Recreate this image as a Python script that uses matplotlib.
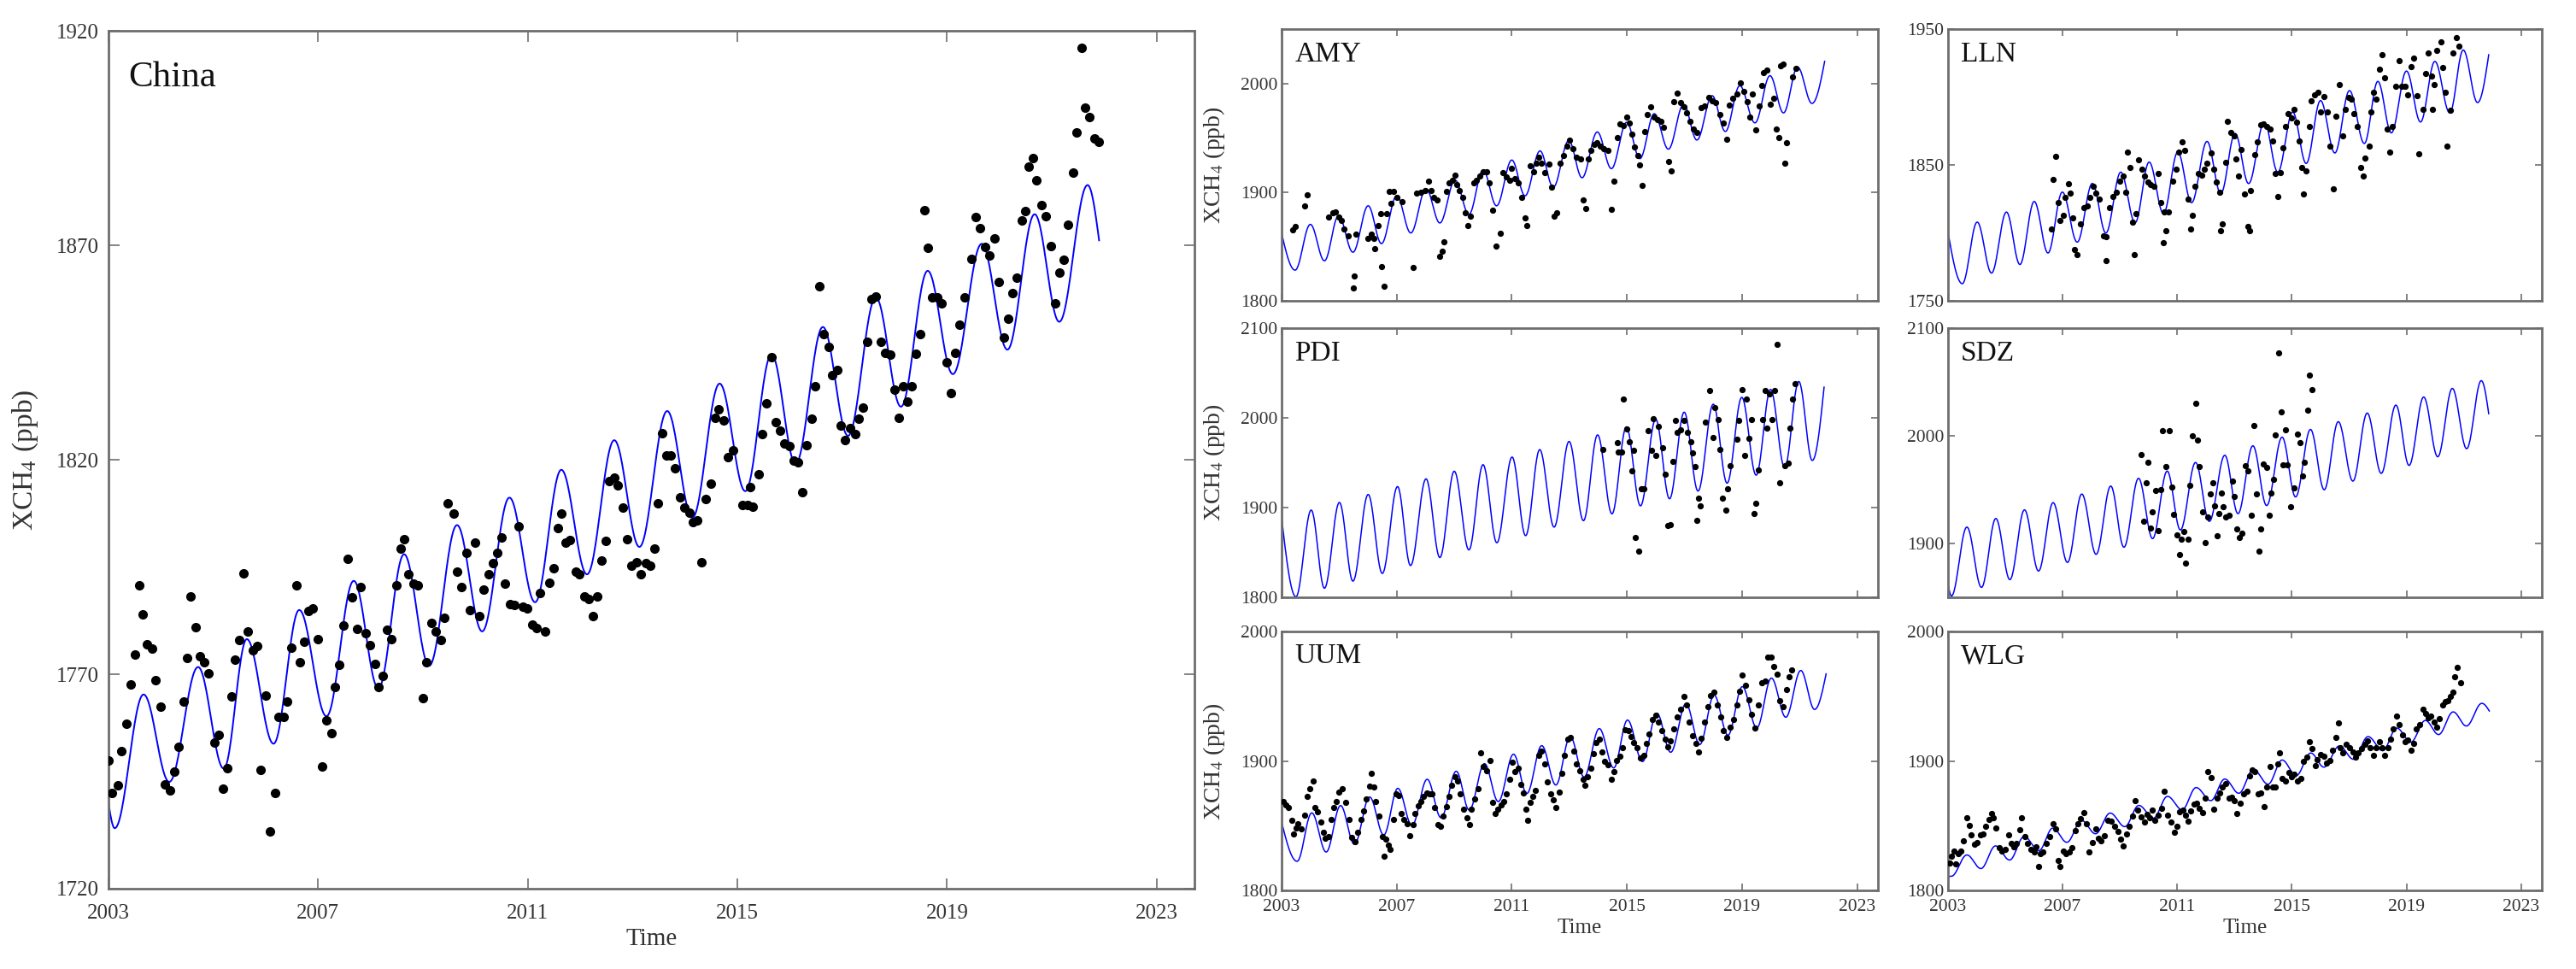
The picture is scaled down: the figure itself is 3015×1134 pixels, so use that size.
import numpy as np
import matplotlib
matplotlib.use('Agg')
import matplotlib.pyplot as plt

plt.rcParams['font.family'] = ['Liberation Serif', 'DejaVu Serif']
plt.rcParams['mathtext.fontset'] = 'stix'

# ---------------- China ----------------
china_t = [2003.0, 2003.07, 2003.18, 2003.25, 2003.34, 2003.42, 2003.5, 2003.58, 2003.65, 2003.74, 2003.83, 2003.9, 2003.99,
           2004.08, 2004.17, 2004.25, 2004.34, 2004.43, 2004.5, 2004.57, 2004.66, 2004.75, 2004.83, 2004.91,
           2005.02, 2005.11, 2005.18, 2005.26, 2005.35, 2005.42, 2005.49, 2005.58, 2005.66, 2005.75, 2005.84, 2005.91,
           2006.0, 2006.09, 2006.18, 2006.25, 2006.34, 2006.41, 2006.49, 2006.58, 2006.65, 2006.74, 2006.82, 2006.9, 2006.99,
           2007.08, 2007.16, 2007.25, 2007.32, 2007.41, 2007.48, 2007.57, 2007.65, 2007.74, 2007.81, 2007.9, 2007.99,
           2008.08, 2008.15, 2008.24, 2008.32, 2008.4, 2008.49, 2008.57, 2008.64, 2008.73, 2008.82, 2008.91,
           2009.0, 2009.07, 2009.16, 2009.25, 2009.34, 2009.41, 2009.47, 2009.58, 2009.65, 2009.74, 2009.83, 2009.9, 2009.99,
           2010.08, 2010.16, 2010.25, 2010.33, 2010.41, 2010.5, 2010.57, 2010.66, 2010.75, 2010.82, 2010.9, 2010.99,
           2011.08, 2011.17, 2011.24, 2011.33, 2011.42, 2011.49, 2011.57, 2011.64, 2011.73, 2011.81, 2011.91, 2011.99,
           2012.08, 2012.16, 2012.25, 2012.32, 2012.4, 2012.49, 2012.56, 2012.65, 2012.72, 2012.81, 2012.89, 2012.98,
           2013.07, 2013.16, 2013.25, 2013.33, 2013.41, 2013.48, 2013.56, 2013.65, 2013.72, 2013.81, 2013.9, 2013.99,
           2014.08, 2014.15, 2014.24, 2014.31, 2014.4, 2014.49, 2014.57, 2014.64, 2014.73, 2014.82, 2014.91,
           2015.1, 2015.2, 2015.29, 2015.24, 2015.4, 2015.47, 2015.56, 2015.65, 2015.73, 2015.81, 2015.9, 2015.99,
           2016.08, 2016.16, 2016.24, 2016.32, 2016.41, 2016.48, 2016.56, 2016.65, 2016.74, 2016.81, 2016.9, 2016.97,
           2017.06, 2017.15, 2017.24, 2017.31, 2017.4, 2017.48, 2017.55, 2017.64, 2017.73, 2017.82, 2017.91,
           2018.0, 2018.08, 2018.16, 2018.25, 2018.32, 2018.4, 2018.49, 2018.56, 2018.63, 2018.72, 2018.81, 2018.9, 2018.99,
           2019.07, 2019.15, 2019.24, 2019.33, 2019.47, 2019.55, 2019.63, 2019.72, 2019.81, 2019.9, 2019.99,
           2020.08, 2020.16, 2020.25, 2020.33, 2020.42, 2020.49, 2020.55, 2020.64, 2020.71, 2020.8, 2020.89, 2020.98,
           2021.07, 2021.14, 2021.23, 2021.31, 2021.4, 2021.47, 2021.56, 2021.63, 2021.72, 2021.81, 2021.89]
china_v = [1749.9, 1742.3, 1744.1, 1752, 1758.5, 1767.7, 1774.6, 1790.7, 1784, 1777, 1776, 1768.6, 1762.5,
           1744.4, 1743, 1747.3, 1753, 1763.7, 1773.9, 1788.2, 1781, 1774.3, 1772.9, 1770.3,
           1754, 1755.9, 1743.3, 1748, 1764.8, 1773.4, 1777.9, 1793.6, 1780, 1775.6, 1776.5, 1747.6,
           1765, 1733.4, 1742.3, 1760, 1760, 1763.7, 1776.2, 1790.7, 1772.9, 1777.5, 1784.7, 1785.4, 1778.2,
           1748.4, 1759.2, 1756.2, 1767.1, 1772.3, 1781.4, 1796.9, 1788, 1780.6, 1790.4, 1779.6, 1776.8,
           1772.4, 1767.1, 1769.6, 1780.3, 1778.2, 1790.8, 1799.3, 1801.6, 1793.3, 1791.1, 1790.7,
           1764.5, 1772.9, 1782, 1780, 1777.9, 1783.2, 1809.8, 1807.4, 1794, 1790.4, 1798.3, 1785, 1800.7,
           1783.5, 1789.7, 1793.3, 1795.9, 1798.3, 1801.9, 1791.1, 1786.4, 1786.1, 1804.5, 1785.8, 1785.4,
           1781.5, 1780.8, 1789, 1779.9, 1791.4, 1794.7, 1804, 1807.4, 1800.7, 1801.4, 1794, 1793.3,
           1788.2, 1787.5, 1783.6, 1788.2, 1796.6, 1801.2, 1815.1, 1815.8, 1814.1, 1808.8, 1801.6, 1795.4,
           1796.2, 1793.3, 1795.9, 1795.4, 1799.3, 1809.8, 1826.3, 1821, 1821, 1818, 1811.2, 1808.8,
           1807.6, 1805.5, 1805.8, 1796.2, 1810.8, 1814.4, 1829.8, 1831.8, 1829.2, 1820.6, 1822.3,
           1809.4, 1809.4, 1809.1, 1813.6, 1816.6, 1826, 1833.2, 1843.9, 1828.8, 1826.8, 1823.9, 1823.2,
           1819.9, 1819.4, 1812.5, 1823.4, 1829.6, 1837.1, 1860.5, 1849.3, 1846.4, 1839.8, 1841, 1828,
           1824.6, 1827.5, 1826, 1829.6, 1832.1, 1847.6, 1857.5, 1858.2, 1847.6, 1845, 1844.6,
           1836.4, 1829.9, 1837.1, 1833.5, 1837.1, 1844.7, 1849.3, 1878.3, 1869.4, 1857.9, 1857.9, 1856.5, 1842.8,
           1835.5, 1845, 1851.5, 1857.9, 1866.8, 1876.6, 1874, 1869.7, 1867.7, 1871.6, 1861.5,
           1848.6, 1852.9, 1858.9, 1862.5, 1875.9, 1878, 1888.4, 1890.3, 1885.2, 1879.5, 1876.9, 1869.9,
           1856.5, 1863.7, 1866.6, 1874.9, 1887, 1896.4, 1916.1, 1902.2, 1900, 1895, 1894.1]
# fitted curve read as start, alternating extrema, end
china_fit_t = [2003.0, 2003.12, 2003.67, 2004.16, 2004.71, 2005.2, 2005.64, 2006.15, 2006.64, 2007.16, 2007.68,
               2008.15, 2008.64, 2009.12, 2009.65, 2010.13, 2010.65, 2011.14, 2011.64, 2012.13, 2012.65, 2013.13,
               2013.66, 2014.14, 2014.66, 2015.15, 2015.65, 2016.11, 2016.63, 2017.11, 2017.64, 2018.12, 2018.63,
               2019.11, 2019.66, 2020.15, 2020.67, 2021.14, 2021.68, 2021.9]
china_fit_v = [1740, 1734.1, 1765.3, 1744.9, 1771.7, 1748, 1778.2, 1753.8, 1785, 1760.2, 1791.8,
               1766.7, 1798, 1772, 1804.8, 1780, 1811.2, 1786.8, 1817.7, 1793.3, 1824.6, 1799.7,
               1831.4, 1806.5, 1837.8, 1812.7, 1844.6, 1819.1, 1851, 1825.6, 1857.9, 1832.4, 1864.1,
               1840, 1870.4, 1845.7, 1877.3, 1852.2, 1884.1, 1871.2]

# ---------------- AMY ----------------
amy_t = [2003.4, 2003.47, 2003.8, 2003.88, 2004.64, 2004.77, 2004.87, 2004.98, 2005.07, 2005.18, 2005.33, 2005.53, 2005.48, 2005.59,
         2006.01, 2006.12, 2006.2, 2006.24, 2006.35, 2006.43, 2006.47, 2006.56, 2006.65, 2006.74, 2006.8, 2006.89, 2007.0, 2007.2,
         2007.56, 2007.68, 2007.83, 2007.99, 2008.11, 2008.19, 2008.3, 2008.4, 2008.5, 2008.57, 2008.63, 2008.72, 2008.83, 2008.93,
         2009.03, 2009.1, 2009.18, 2009.29, 2009.39, 2009.48, 2009.55, 2009.67, 2009.78, 2009.9, 2010.0, 2010.13, 2010.2, 2010.33,
         2010.46, 2010.59, 2010.69, 2010.82, 2010.92, 2011.0, 2011.11, 2011.22, 2011.34, 2011.45, 2011.53, 2011.65, 2011.75, 2011.85,
         2011.95, 2012.04, 2012.13, 2012.28, 2012.38, 2012.48, 2012.56, 2012.68, 2012.79, 2012.91, 2013.02, 2013.12, 2013.24, 2013.4,
         2013.47, 2013.56, 2013.66, 2013.75, 2013.87, 2013.97, 2014.08, 2014.2, 2014.35, 2014.46, 2014.54, 2014.66, 2014.77, 2014.87,
         2014.99, 2015.08, 2015.17, 2015.26, 2015.39, 2015.45, 2015.53, 2015.63, 2015.72, 2015.83, 2015.93, 2016.05, 2016.17, 2016.28,
         2016.44, 2016.55, 2016.64, 2016.74, 2016.85, 2016.97, 2017.08, 2017.2, 2017.32, 2017.43, 2017.58, 2017.7, 2017.84, 2017.96,
         2018.07, 2018.22, 2018.34, 2018.46, 2018.57, 2018.69, 2018.83, 2018.95, 2019.07, 2019.18, 2019.26, 2019.36, 2019.49, 2019.59,
         2019.68, 2019.74, 2019.86, 2019.98, 2020.09, 2020.2, 2020.29, 2020.35, 2020.44, 2020.55, 2020.5, 2020.75, 2020.86]
amy_v = [1865, 1868.4, 1887.4, 1897.4, 1876.8, 1880.8, 1881.6, 1876.8, 1873.7, 1866.3, 1859.7, 1822.9, 1811.6, 1861.6,
         1857.1, 1861.1, 1857.1, 1847.9, 1868.9, 1880, 1831.6, 1813.2, 1880, 1900.5, 1889.5, 1901, 1895.3, 1891.3,
         1830.8, 1899.2, 1900, 1901.8, 1909.7, 1901.8, 1895.3, 1892.6, 1840.5, 1845.3, 1854.5, 1900.5, 1908.4, 1910.5,
         1915.8, 1907.1, 1901.8, 1895.3, 1880.8, 1868.9, 1878.2, 1908.4, 1911, 1915, 1918.9, 1918.9, 1908.4, 1883.4,
         1850.5, 1862.4, 1917.6, 1913.7, 1911, 1921.6, 1912.4, 1908.4, 1895.3, 1876.3, 1869.5, 1924.2, 1918.9, 1926.8,
         1932.1, 1926.8, 1917.6, 1925.8, 1904.5, 1878.2, 1880.8, 1926.8, 1933.4, 1942.6, 1947.9, 1940, 1932.1, 1930.8,
         1892.6, 1884.7, 1930.8, 1938.7, 1944, 1945.3, 1942.6, 1940, 1938.7, 1884.2, 1909.7, 1950.5, 1962.4, 1961.1,
         1968.9, 1963.7, 1953.2, 1941.3, 1933.4, 1924.7, 1905.8, 1955.8, 1971.6, 1978.2, 1968.9, 1966.3, 1965, 1959.7,
         1928.2, 1919.5, 1983.4, 1991.3, 1982.1, 1978.2, 1972.9, 1965, 1958.4, 1954.5, 1977.4, 1978.9, 1987.4, 1984.2,
         1982.1, 1971.6, 1963.7, 1948.4, 1980, 1986, 1990.5, 2000.5, 1992.6, 1983.4, 1968.9, 1990, 1957.1, 1978.9,
         1997.9, 2009.7, 2012.4, 1980.8, 1986, 1958.4, 1950.5, 2016.3, 2017.6, 1945.3, 1926.8, 2005.8, 2013.7]
amy_fit_t = [2003.0, 2003.47, 2004.0, 2004.49, 2004.98, 2005.48, 2006.01, 2006.47, 2007.0, 2007.49, 2008.02, 2008.5,
             2009.03, 2009.51, 2010.0, 2010.47, 2011.0, 2011.46, 2011.98, 2012.44, 2012.98, 2013.44, 2013.97, 2014.46,
             2014.99, 2015.45, 2015.95, 2016.44, 2016.97, 2017.43, 2017.96, 2018.42, 2018.92, 2019.45, 2019.97, 2020.44,
             2020.93, 2021.43, 2021.87]
amy_fit_v = [1862.4, 1828.2, 1870.3, 1836.8, 1878.2, 1844.7, 1887.4, 1852.6, 1896.6, 1862.4, 1903.2, 1871.6,
             1911, 1879.5, 1920.3, 1887.4, 1929.5, 1896.6, 1937.9, 1904.5, 1947.4, 1913.2, 1955.3, 1921.6,
             1964.2, 1930.8, 1972.1, 1939.5, 1980.8, 1947.9, 1988.7, 1955.8, 1997.9, 1963.7, 2007.1, 1972.9,
             2015, 1981.6, 2020.3]

# ---------------- LLN ----------------
lln_t = [2006.6, 2006.68, 2006.76, 2006.84, 2006.92, 2007.02, 2007.1, 2007.2, 2007.26, 2007.34, 2007.42, 2007.51, 2007.62, 2007.73,
         2007.85, 2007.96, 2008.06, 2008.17, 2008.29, 2008.42, 2008.53, 2008.52, 2008.64, 2008.75, 2008.87, 2008.98, 2009.11, 2009.19,
         2009.26, 2009.34, 2009.45, 2009.55, 2009.51, 2009.65, 2009.76, 2009.86, 2009.97, 2010.08, 2010.2, 2010.33, 2010.44, 2010.55,
         2010.52, 2010.6, 2010.7, 2010.83, 2010.95, 2011.06, 2011.17, 2011.27, 2011.38, 2011.46, 2011.54, 2011.62, 2011.74, 2011.85,
         2011.96, 2012.05, 2012.17, 2012.27, 2012.36, 2012.47, 2012.52, 2012.58, 2012.68, 2012.76, 2012.87, 2012.98, 2013.05, 2013.13,
         2013.23, 2013.34, 2013.46, 2013.52, 2013.57, 2013.7, 2013.8, 2013.91, 2014.01, 2014.12, 2014.23, 2014.33, 2014.43, 2014.51,
         2014.59, 2014.7, 2014.79, 2014.87, 2014.98, 2015.09, 2015.18, 2015.26, 2015.34, 2015.4, 2015.5, 2015.6, 2015.68, 2015.79,
         2015.92, 2016.0, 2016.11, 2016.23, 2016.34, 2016.44, 2016.55, 2016.66, 2016.78, 2016.86, 2016.97, 2017.06, 2017.17, 2017.29,
         2017.41, 2017.49, 2017.56, 2017.69, 2017.77, 2017.84, 2017.95, 2018.06, 2018.15, 2018.23, 2018.34, 2018.42, 2018.5, 2018.63,
         2018.74, 2018.82, 2018.94, 2019.05, 2019.16, 2019.26, 2019.37, 2019.44, 2019.57, 2019.68, 2019.76, 2019.88, 2019.96, 2019.91,
         2020.07, 2020.19, 2020.26, 2020.35, 2020.41, 2020.54, 2020.62, 2020.73, 2020.82]
lln_v = [1802.6, 1839.5, 1856.3, 1822.2, 1808.9, 1813.2, 1825.8, 1836.3, 1829, 1811, 1787.9, 1783.7, 1806.8, 1818.4,
         1819.5, 1825.8, 1834.2, 1829, 1824.7, 1797.8, 1797.4, 1779.5, 1818.4, 1826.8, 1830, 1837.8, 1842, 1830,
         1859.5, 1848.4, 1807.9, 1814.2, 1783.7, 1853.7, 1847, 1841.6, 1837.4, 1835.3, 1834.2, 1843.7, 1822.6, 1815.3,
         1792.8, 1801.6, 1815.5, 1837.8, 1846.8, 1859.5, 1866.8, 1860.5, 1824.7, 1802.6, 1813.2, 1834.2, 1843.7, 1842.6,
         1846.8, 1851, 1858.8, 1846.8, 1837.4, 1830, 1801.6, 1806.8, 1852.1, 1882, 1873.6, 1871.1, 1854.2, 1842,
         1861.6, 1828.9, 1804.7, 1801.6, 1831.1, 1857.4, 1866.8, 1879.5, 1880.5, 1878.4, 1876.3, 1867.9, 1843.7, 1826.8,
         1844.1, 1862.6, 1878.4, 1887.9, 1884.7, 1891.1, 1881.6, 1867.9, 1847.9, 1828.9, 1845.7, 1878.4, 1897.4, 1901.6,
         1903.7, 1888.9, 1900.5, 1888.9, 1863.7, 1832.1, 1885.8, 1908.9, 1871.1, 1891.1, 1899.5, 1898.4, 1887.9, 1878.4,
         1847.9, 1841.6, 1855.3, 1863.7, 1888.9, 1903.7, 1898.4, 1920.5, 1931.1, 1914.2, 1876.3, 1859.5, 1878.4, 1907.9,
         1926.8, 1907.9, 1907.9, 1901.6, 1922.6, 1928.9, 1900.9, 1858.4, 1891.1, 1917.4, 1932.1, 1915.3, 1908.9, 1891.1,
         1934.2, 1940.5, 1921.6, 1903.7, 1863.7, 1890, 1932.1, 1943.7, 1937.4]
lln_fit_t = [2003.0, 2003.5, 2004.02, 2004.52, 2005.04, 2005.51, 2006.01, 2006.49, 2006.99, 2007.51, 2008.04, 2008.51,
             2009.03, 2009.53, 2010.02, 2010.52, 2011.02, 2011.5, 2012.04, 2012.52, 2013.02, 2013.49, 2014.04, 2014.51,
             2015.03, 2015.5, 2016.0, 2016.5, 2017.01, 2017.53, 2018.0, 2018.47, 2019.0, 2019.49, 2019.99, 2020.51,
             2020.98, 2021.48, 2021.87]
lln_fit_v = [1800.5, 1762.6, 1807.9, 1770.4, 1815.3, 1776.7, 1823.1, 1785.2, 1830, 1793.2, 1836.4, 1799.9,
             1844.7, 1807.5, 1852.1, 1814.2, 1859.5, 1822.2, 1867.3, 1828.9, 1873.2, 1836.3, 1881.6, 1844.7,
             1888.9, 1851.1, 1897.4, 1858.8, 1904.7, 1865.8, 1911.5, 1873.6, 1919.1, 1881.6, 1926.2, 1888.3,
             1934.6, 1895.9, 1931.1]

# ---------------- PDI ----------------
pdi_t = [2014.17, 2014.68, 2014.71, 2014.81, 2014.89, 2014.98, 2015.09, 2015.16, 2015.24, 2015.28, 2015.42, 2015.51, 2015.59,
         2015.74, 2015.85, 2015.92, 2016.0, 2016.08, 2016.23, 2016.32, 2016.41, 2016.5, 2016.61, 2016.68, 2016.76, 2016.87,
         2016.99, 2017.11, 2017.23, 2017.29, 2017.37, 2017.42, 2017.5, 2017.56, 2017.74, 2017.87, 2017.98, 2018.05, 2018.17,
         2018.23, 2018.32, 2018.43, 2018.51, 2018.58, 2018.81, 2018.89, 2018.99, 2019.08, 2019.14, 2019.24, 2019.34, 2019.42,
         2019.49, 2019.57, 2019.72, 2019.8, 2019.87, 2019.95, 2020.03, 2020.13, 2020.22, 2020.3, 2020.48, 2020.6, 2020.67,
         2020.76, 2020.83]
pdi_v = [1965.2, 1972.2, 1962, 1962, 2020.6, 1987.3, 1973.1, 1940.5, 1963.6, 1867.1, 1851.3, 1920.9, 1920.9,
         1985.8, 1963.6, 1999.4, 1958.2, 1990.5, 1966.8, 1937.3, 1880.4, 1881.3, 1951.6, 1997.5, 1984.2, 1986.7,
         1997.5, 1984.2, 1973.1, 1961.4, 1945.6, 1886.1, 1910.8, 1901.9, 1995.3, 2030.1, 1977.8, 2011.1, 1998.4,
         1965.2, 1910.8, 1897.2, 1920.9, 1946.2, 1976.3, 1996.8, 2031.6, 1958.2, 2020.6, 1977.2, 1998.4, 1893,
         1905.1, 1941.5, 1998.4, 2030.1, 1988.9, 2026.9, 1998.4, 2030.1, 2082.3, 1927.2, 1946.2, 1949.4, 1988.9,
         2020.6, 2038]
pdi_fit_t = [2003.0, 2003.5, 2004.03, 2004.49, 2005.01, 2005.48, 2006.01, 2006.5, 2007.03, 2007.48, 2008.02, 2008.5,
             2009.0, 2009.51, 2010.0, 2010.48, 2011.01, 2011.48, 2011.97, 2012.47, 2012.99, 2013.49, 2013.98, 2014.48,
             2014.98, 2015.47, 2016.0, 2016.48, 2016.99, 2017.47, 2018.0, 2018.48, 2018.99, 2019.49, 2019.99, 2020.48,
             2020.97, 2021.44, 2021.85]
pdi_fit_v = [1889.2, 1800.6, 1897.2, 1810.1, 1905.7, 1818, 1914.6, 1826.6, 1923.4, 1835.4, 1932, 1844.3,
             1940.5, 1852.8, 1947.8, 1860.8, 1956.3, 1868.7, 1964.6, 1878.2, 1973.7, 1885.4, 1981, 1893,
             1989.9, 1901.9, 1998.4, 1909.8, 2006.3, 1918.4, 2015.2, 1927.2, 2022.8, 1936.1, 2031.6, 1944.6,
             2040.5, 1952.5, 2034.2]

# ---------------- SDZ ----------------
sdz_t = [2009.73, 2009.91, 2009.99, 2009.84, 2010.06, 2010.14, 2010.25, 2010.34, 2010.42, 2010.5, 2010.61, 2010.71, 2010.81,
         2010.87, 2011.0, 2011.07, 2011.15, 2011.22, 2011.3, 2011.38, 2011.45, 2011.53, 2011.64, 2011.7, 2011.76, 2011.89,
         2011.99, 2012.07, 2012.15, 2012.23, 2012.31, 2012.38, 2012.46, 2012.53, 2012.61, 2012.69, 2012.81, 2012.92, 2012.99,
         2013.09, 2013.17, 2013.27, 2013.38, 2013.46, 2013.58, 2013.69, 2013.77, 2013.84, 2013.92, 2014.01, 2014.11, 2014.2,
         2014.28, 2014.35, 2014.43, 2014.54, 2014.62, 2014.7, 2014.78, 2014.85, 2014.97, 2015.08, 2015.19, 2015.28, 2015.36,
         2015.44, 2015.54, 2015.62, 2015.7]
sdz_v = [1982.7, 1956, 1975.2, 1920.5, 1914.4, 1929.3, 1949.1, 1911.7, 1949.9, 2004.5, 1971.2, 2004.5, 1952.5,
         1927.2, 1908, 1889.9, 1903.7, 1911.2, 1881.9, 1903.7, 1953.9, 1999.7, 2029.9, 1996, 1971.2, 1929.3,
         1900.5, 1924.5, 1945.9, 1956, 1934.7, 1907.2, 1927.7, 1947.2, 1933.9, 1924.5, 1925.9, 1957.9, 1943.7,
         1913.3, 1905.9, 1909.9, 1972, 1967.2, 1925.9, 2009.9, 1946.4, 1893.1, 1913.3, 1973.9, 1970.4, 1925.9,
         1947.2, 1959.2, 2000.5, 2077.1, 2021.9, 1973.1, 2005.9, 1973.1, 1933.9, 1951.7, 2001.9, 1993.3, 1962.4,
         1975.2, 2023.7, 2056.5, 2043.2]
sdz_fit_t = [2003.0, 2003.12, 2003.66, 2004.17, 2004.67, 2005.16, 2005.67, 2006.16, 2006.67, 2007.17, 2007.67, 2008.17,
             2008.68, 2009.14, 2009.65, 2010.14, 2010.65, 2011.11, 2011.64, 2012.12, 2012.66, 2013.12, 2013.64, 2014.12,
             2014.66, 2015.13, 2015.65, 2016.13, 2016.62, 2017.13, 2017.63, 2018.12, 2018.63, 2019.09, 2019.6, 2020.09,
             2020.6, 2021.1, 2021.61, 2021.87]
sdz_fit_v = [1863.2, 1851.2, 1915.2, 1859.2, 1923.2, 1866.4, 1931.2, 1874.4, 1937.9, 1882.4, 1945.9, 1889.9,
             1953.3, 1896.5, 1960.5, 1904.5, 1967.2, 1912.5, 1975.2, 1920.5, 1981.9, 1927.7, 1990.7, 1935.2,
             1998.7, 1943.2, 2005.9, 1949.9, 2013.1, 1957.9, 2021.1, 1965.1, 2028.5, 1972.5, 2036, 1980.5,
             2044, 1988, 2051.2, 2020.5]

# ---------------- UUM ----------------
uum_t = [2003.05, 2003.15, 2003.24, 2003.35, 2003.42, 2003.5, 2003.57, 2003.68, 2003.8, 2003.9, 2003.99, 2004.1, 2004.17, 2004.25,
         2004.36, 2004.45, 2004.52, 2004.63, 2004.72, 2004.81, 2004.9, 2005.0, 2005.11, 2005.23, 2005.35, 2005.45, 2005.56, 2005.65,
         2005.76, 2005.86, 2005.95, 2006.06, 2006.13, 2006.21, 2006.28, 2006.4, 2006.51, 2006.55, 2006.61, 2006.7, 2006.78, 2006.89,
         2006.99, 2007.08, 2007.16, 2007.26, 2007.37, 2007.46, 2007.56, 2007.64, 2007.74, 2007.83, 2007.94, 2008.05, 2008.14, 2008.24,
         2008.32, 2008.42, 2008.51, 2008.62, 2008.72, 2008.81, 2008.92, 2009.02, 2009.11, 2009.22, 2009.33, 2009.45, 2009.52, 2009.6,
         2009.72, 2009.82, 2009.93, 2010.02, 2010.12, 2010.23, 2010.32, 2010.42, 2010.5, 2010.62, 2010.73, 2010.8, 2010.92, 2011.03,
         2011.1, 2011.21, 2011.3, 2011.4, 2011.48, 2011.55, 2011.63, 2011.73, 2011.83, 2011.93, 2012.04, 2012.13, 2012.23, 2012.34,
         2012.43, 2012.53, 2012.64, 2012.73, 2012.83, 2012.94, 2013.03, 2013.14, 2013.24, 2013.36, 2013.47, 2013.54, 2013.63, 2013.74,
         2013.84, 2013.93, 2014.04, 2014.14, 2014.23, 2014.34, 2014.45, 2014.54, 2014.64, 2014.75, 2014.84, 2014.94, 2015.05, 2015.14,
         2015.24, 2015.35, 2015.47, 2015.58, 2015.67, 2015.77, 2015.89, 2016.0, 2016.1, 2016.22, 2016.33, 2016.42, 2016.52, 2016.64,
         2016.75, 2016.86, 2016.98, 2017.08, 2017.17, 2017.28, 2017.4, 2017.49, 2017.58, 2017.7, 2017.8, 2017.91, 2018.03, 2018.15,
         2018.26, 2018.36, 2018.48, 2018.59, 2018.71, 2018.81, 2018.9, 2019.01, 2019.11, 2019.23, 2019.33, 2019.45, 2019.56, 2019.68,
         2019.8, 2019.9, 2020.02, 2020.11, 2020.21, 2020.32, 2020.44, 2020.54, 2020.63, 2020.73]
uum_v = [1868.7, 1866.1, 1863.9, 1854, 1843.6, 1848.5, 1851.8, 1847.4, 1858.4, 1872.7, 1878.9, 1884.8, 1863.9, 1860.6,
         1852.9, 1845.2, 1840.1, 1841.4, 1855.1, 1863.9, 1868.7, 1876, 1878.9, 1867.8, 1855.1, 1840.7, 1837.9, 1845.2,
         1855.1, 1861.7, 1870.5, 1880.4, 1890.3, 1879.7, 1868.7, 1857.3, 1841.9, 1826.4, 1839.6, 1835.2, 1831.9, 1854.6,
         1874.9, 1873.1, 1859.5, 1855.1, 1851.8, 1842.3, 1850.7, 1859.5, 1865.6, 1868.7, 1872.7, 1875.3, 1874.9, 1874.9,
         1863.9, 1850.7, 1849.6, 1857.3, 1865, 1872.7, 1881.5, 1887.7, 1884.8, 1874.9, 1862.8, 1856.2, 1850.7, 1862.8,
         1870.5, 1878.9, 1906.2, 1895.8, 1892.5, 1900.2, 1868.3, 1859.5, 1862.8, 1866.1, 1868.7, 1874.9, 1885.9, 1899.1,
         1892.1, 1894.7, 1881.9, 1875.3, 1862.8, 1854, 1868.3, 1872.7, 1877.1, 1904.6, 1907.9, 1898, 1883.7, 1874.9,
         1870, 1863.9, 1876, 1890.7, 1904.6, 1916.7, 1918.5, 1907.9, 1898, 1892.5, 1885.9, 1881.5, 1888.1, 1894.7,
         1905.7, 1914.1, 1916.7, 1906.8, 1899.6, 1896.9, 1885.9, 1892.1, 1900.2, 1903.5, 1910.1, 1924.4, 1923.3, 1918.9,
         1914.5, 1910.1, 1902.4, 1904.6, 1913.4, 1921.1, 1932.2, 1935.5, 1930, 1923.3, 1916.7, 1911.2, 1915.6, 1925.1,
         1934.4, 1939.9, 1949.8, 1943.2, 1930, 1919.4, 1913.4, 1906.8, 1917.8, 1930, 1942.1, 1950.9, 1953.1, 1943.2,
         1934.4, 1923.3, 1918.5, 1926, 1932.2, 1943.2, 1954.2, 1966.3, 1958.6, 1947.6, 1936.1, 1925.6, 1943.2, 1960.8,
         1961.9, 1980.6, 1980.6, 1972.9, 1967.4, 1946.5, 1942.1, 1955.3, 1965.2, 1970.7]
uum_fit_t = [2003.0, 2003.54, 2004.05, 2004.55, 2005.05, 2005.53, 2006.06, 2006.55, 2007.04, 2007.53, 2008.06, 2008.54,
             2009.07, 2009.52, 2010.05, 2010.53, 2011.06, 2011.52, 2012.04, 2012.53, 2013.03, 2013.51, 2014.04, 2014.54,
             2015.02, 2015.54, 2016.04, 2016.52, 2017.05, 2017.53, 2018.03, 2018.51, 2019.01, 2019.51, 2020.02, 2020.52,
             2021.04, 2021.52, 2021.92]
uum_fit_v = [1852.9, 1822.5, 1859.9, 1829.7, 1865.6, 1835.7, 1872.2, 1842.9, 1878.9, 1850.2, 1885.9, 1856.2,
             1892.1, 1862.1, 1898, 1868.7, 1905.3, 1874.9, 1911.9, 1881.5, 1918.9, 1887.7, 1925.1, 1894.7,
             1931.7, 1899.6, 1937, 1906.8, 1944.3, 1912.8, 1950.9, 1920, 1957.5, 1925.6, 1964.1, 1933.9,
             1970, 1939.9, 1967.4]

# ---------------- WLG ----------------
wlg_t = [2003.05, 2003.12, 2003.2, 2003.28, 2003.35, 2003.46, 2003.55, 2003.66, 2003.74, 2003.82, 2003.92, 2004.02, 2004.12, 2004.23,
         2004.32, 2004.43, 2004.51, 2004.58, 2004.66, 2004.78, 2004.89, 2005.0, 2005.12, 2005.22, 2005.31, 2005.4, 2005.51, 2005.58,
         2005.69, 2005.78, 2005.89, 2006.0, 2006.08, 2006.17, 2006.23, 2006.32, 2006.43, 2006.54, 2006.66, 2006.75, 2006.85, 2006.92,
         2007.03, 2007.12, 2007.23, 2007.32, 2007.43, 2007.52, 2007.63, 2007.74, 2007.82, 2007.92, 2008.05, 2008.15, 2008.25, 2008.35,
         2008.46, 2008.57, 2008.69, 2008.82, 2008.92, 2009.02, 2009.12, 2009.23, 2009.32, 2009.43, 2009.54, 2009.63, 2009.74, 2009.85,
         2009.94, 2010.05, 2010.14, 2010.23, 2010.35, 2010.46, 2010.55, 2010.66, 2010.77, 2010.89, 2011.0, 2011.09, 2011.2, 2011.28,
         2011.38, 2011.48, 2011.58, 2011.69, 2011.78, 2011.89, 2011.98, 2012.08, 2012.17, 2012.28, 2012.38, 2012.48, 2012.58, 2012.69,
         2012.82, 2012.91, 2013.0, 2013.09, 2013.2, 2013.31, 2013.43, 2013.52, 2013.62, 2013.71, 2013.82, 2013.92, 2014.02, 2014.12,
         2014.23, 2014.32, 2014.43, 2014.51, 2014.58, 2014.66, 2014.78, 2014.89, 2015.0, 2015.09, 2015.2, 2015.31, 2015.4, 2015.51,
         2015.62, 2015.71, 2015.82, 2015.89, 2016.0, 2016.11, 2016.2, 2016.32, 2016.43, 2016.54, 2016.62, 2016.69, 2016.78, 2016.89,
         2017.0, 2017.12, 2017.23, 2017.32, 2017.43, 2017.54, 2017.63, 2017.74, 2017.85, 2017.94, 2018.05, 2018.15, 2018.25, 2018.35,
         2018.46, 2018.55, 2018.66, 2018.74, 2018.85, 2018.94, 2019.05, 2019.15, 2019.25, 2019.35, 2019.46, 2019.58, 2019.66, 2019.77,
         2019.86, 2019.97, 2020.05, 2020.15, 2020.25, 2020.35, 2020.43, 2020.54, 2020.62, 2020.69, 2020.78, 2020.89]
wlg_v = [1821.2, 1826.3, 1830.7, 1820.8, 1828.5, 1830.7, 1838.3, 1855.9, 1850.4, 1842.7, 1835.7, 1837.2, 1842.7, 1843.8,
         1849.3, 1854.8, 1859.8, 1855.9, 1848.2, 1832.9, 1830.7, 1831.8, 1842.7, 1836.1, 1834, 1836.6, 1847.1, 1855.9,
         1841.6, 1836.6, 1831.8, 1829.6, 1834, 1818.6, 1828.5, 1829.6, 1836.1, 1841.6, 1851.5, 1847.5, 1823.4, 1818.6,
         1830.7, 1828.5, 1830, 1832.9, 1846, 1851.5, 1855.4, 1860.2, 1851.5, 1830, 1837.2, 1847.5, 1840.5, 1838.3,
         1842.3, 1854.1, 1853.2, 1849.3, 1845.3, 1839.4, 1834.4, 1843.8, 1849.7, 1857.6, 1869.4, 1862.4, 1857, 1852.6,
         1859.1, 1856.3, 1862, 1854.1, 1858.1, 1863.5, 1876.7, 1858.1, 1852.6, 1844.9, 1849.3, 1860.7, 1862, 1858.1,
         1853.7, 1861.3, 1866.8, 1867.2, 1863.5, 1860.2, 1871.2, 1892, 1887, 1862.9, 1871.2, 1875.6, 1880, 1882.6,
         1871.2, 1872.3, 1869.4, 1859.8, 1867.2, 1874.5, 1876.7, 1888.3, 1893.1, 1892, 1874.5, 1875.6, 1864.6, 1880,
         1895.7, 1880, 1880, 1897.5, 1906.2, 1886.5, 1884.3, 1890.9, 1887.6, 1889.8, 1884.3, 1886.5, 1899.7, 1903,
         1915, 1909.5, 1896.4, 1900.8, 1905.1, 1903.6, 1898.6, 1900.1, 1908.4, 1918.3, 1929.2, 1910.6, 1906.2, 1912.8,
         1910.6, 1907.3, 1902.9, 1906.2, 1909.5, 1912.8, 1915.4, 1910.6, 1904.1, 1910.6, 1915, 1910.6, 1904.5, 1910.6,
         1916.8, 1924.9, 1934.7, 1928.1, 1920.5, 1915, 1916.1, 1908.4, 1913.9, 1924.9, 1928.1, 1940.2, 1936.9, 1933.6,
         1934.7, 1930.3, 1926.4, 1932.5, 1943.5, 1945.7, 1946.8, 1950.1, 1953.3, 1965.4, 1972.4, 1960.6]
wlg_fit_t = [2003.0, 2003.12, 2003.66, 2004.15, 2004.66, 2005.15, 2005.66, 2006.17, 2006.66, 2007.15, 2007.66, 2008.15,
             2008.66, 2009.17, 2009.66, 2010.17, 2010.66, 2011.17, 2011.66, 2012.17, 2012.66, 2013.15, 2013.66, 2014.17,
             2014.66, 2015.15, 2015.66, 2016.12, 2016.66, 2017.15, 2017.66, 2018.17, 2018.66, 2019.15, 2019.66, 2020.12,
             2020.63, 2021.09, 2021.63, 2021.89]
wlg_fit_v = [1810.3, 1811, 1827.4, 1816.9, 1834.4, 1823.5, 1841.7, 1830.7, 1848.2, 1837.2, 1854.1, 1843.8,
             1859.8, 1849.3, 1865.7, 1855.9, 1872.7, 1862.4, 1879.5, 1869.4, 1886.1, 1875.1, 1893.5, 1882.1,
             1900.8, 1888.7, 1906.2, 1895.3, 1911.7, 1901.4, 1918.9, 1908, 1925.5, 1914.6, 1931.4, 1920.5,
             1938, 1927.1, 1944.6, 1938.7]

x_ticks = [2003, 2007, 2011, 2015, 2019, 2023]

GREY_FRAME = '#6e6e6e'
LABEL_COL = '#333333'


def smooth_curve(tk, vk, n=30):
    """Draw a smooth line through read nodes (start, extrema..., end)."""
    tk = np.asarray(tk, float)
    vk = np.asarray(vk, float)
    ts, vs = [], []
    last = len(tk) - 2
    for i in range(len(tk) - 1):
        u = np.linspace(0, 1, n)
        if i == 0 and last > 0:
            s = np.sin(np.pi / 2 * u)
        elif i == last and last > 0:
            s = 1 - np.cos(np.pi / 2 * u)
        else:
            s = (1 - np.cos(np.pi * u)) / 2
        ts.append(tk[i] + (tk[i + 1] - tk[i]) * u)
        vs.append(vk[i] + (vk[i + 1] - vk[i]) * s)
    return np.concatenate(ts), np.concatenate(vs)


def style_axes(ax, ylim, yticks, label_size, tick_len):
    ax.set_xlim(2003, 2023.72)
    ax.set_ylim(*ylim)
    ax.set_xticks(x_ticks)
    ax.set_yticks(yticks)
    for sp in ax.spines.values():
        sp.set_color(GREY_FRAME)
        sp.set_linewidth(2.0)
    ax.tick_params(direction='in', top=True, right=True, length=tick_len, width=1.2,
                   color=GREY_FRAME, labelsize=label_size, labelcolor=LABEL_COL)


fig = plt.figure(figsize=(30.15, 11.34), dpi=100)

# ---- main panel ----
ax = fig.add_axes([0.0421, 0.0829, 0.4216, 0.885])
ft, fv = smooth_curve(china_fit_t, china_fit_v)
ax.plot(ft, fv, color='#0000ff', lw=1.4, zorder=2)
ax.plot(china_t, china_v, 'o', color='black', ms=7, zorder=3)
style_axes(ax, (1720, 1920), [1720, 1770, 1820, 1870, 1920], 18, 9)
ax.tick_params(axis='x', pad=13)
ax.tick_params(axis='y', pad=8)
ax.text(0.018, 0.965, 'China', transform=ax.transAxes, fontsize=31, va='top', ha='left', color='#111111')
ax.set_xlabel('Time', fontsize=21, color=LABEL_COL, labelpad=4)
ax.set_ylabel('XCH$_4$ (ppb)', fontsize=24, color=LABEL_COL)
ax.yaxis.set_label_coords(-0.063, 0.5)

# ---- small panels ----
colL = (0.4975, 0.2315)
colR = (0.7562, 0.2305)
rows = [(0.6896, 0.2804), (0.3836, 0.2778), (0.0811, 0.267)]

panels = [
    ('AMY', colL, rows[0], amy_t, amy_v, amy_fit_t, amy_fit_v, (1800, 2050), [1800, 1900, 2000]),
    ('LLN', colR, rows[0], lln_t, lln_v, lln_fit_t, lln_fit_v, (1750, 1950), [1750, 1850, 1950]),
    ('PDI', colL, rows[1], pdi_t, pdi_v, pdi_fit_t, pdi_fit_v, (1800, 2100), [1800, 1900, 2000, 2100]),
    ('SDZ', colR, rows[1], sdz_t, sdz_v, sdz_fit_t, sdz_fit_v, (1850, 2100), [1900, 2000, 2100]),
    ('UUM', colL, rows[2], uum_t, uum_v, uum_fit_t, uum_fit_v, (1800, 2000), [1800, 1900, 2000]),
    ('WLG', colR, rows[2], wlg_t, wlg_v, wlg_fit_t, wlg_fit_v, (1800, 2000), [1800, 1900, 2000]),
]

for name, col, row, pt, pv, ftk, fvk, ylim, yt in panels:
    a = fig.add_axes([col[0], row[0], col[1], row[1]])
    ct, cv = smooth_curve(ftk, fvk)
    a.plot(ct, cv, color='#0000ff', lw=1.1, zorder=2)
    a.plot(pt, pv, 'o', color='black', ms=4.2, zorder=3)
    style_axes(a, ylim, yt, 15.5, 6)
    a.text(0.022, 0.955, name, transform=a.transAxes, fontsize=24, va='top', ha='left', color='#111111')
    if row is rows[2]:
        a.set_xlabel('Time', fontsize=18, color=LABEL_COL, labelpad=3)
        a.tick_params(axis='x', pad=7)
    else:
        a.tick_params(axis='x', labelbottom=False)
    if col is colL:
        a.set_ylabel('XCH$_4$ (ppb)', fontsize=20, color=LABEL_COL)
        a.yaxis.set_label_coords(-0.092, 0.5)

fig.savefig('out.png', dpi=100)
